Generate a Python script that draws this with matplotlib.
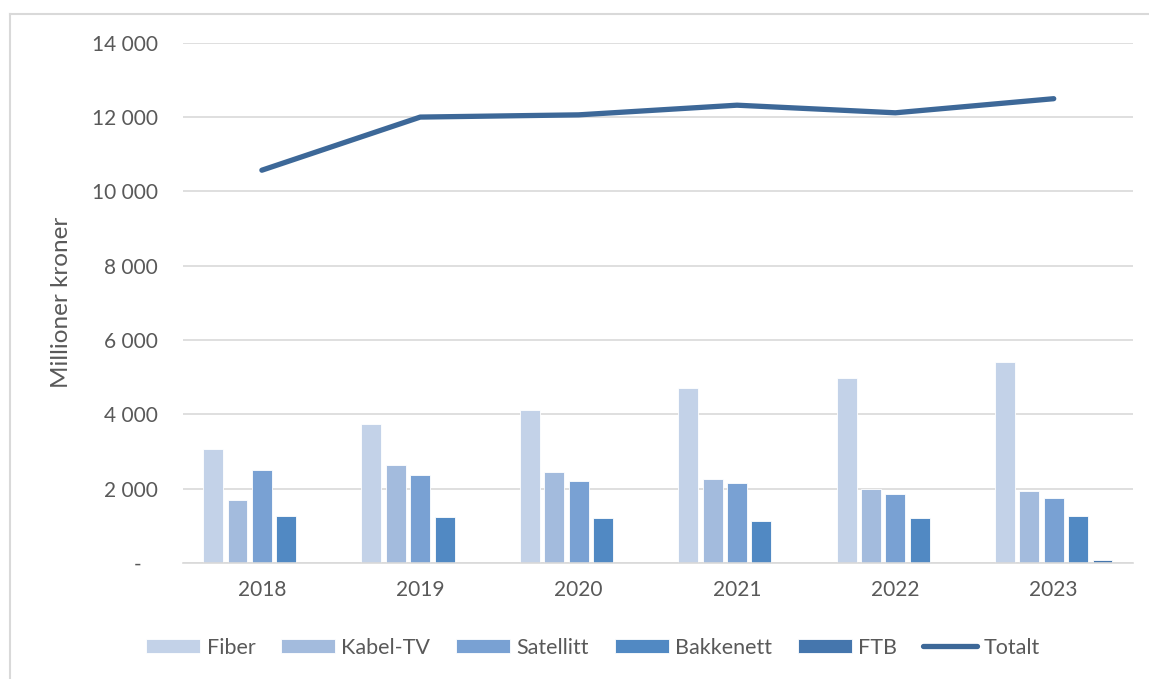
import matplotlib

matplotlib.use("Agg")
import matplotlib.pyplot as plt
from matplotlib.lines import Line2D
from matplotlib.ticker import FuncFormatter

plt.rcParams["font.family"] = ["Lato", "DejaVu Sans"]

YEARS = ["2018", "2019", "2020", "2021", "2022", "2023"]
SERIES = ["Fiber", "Kabel-TV", "Satellitt", "Bakkenett", "FTB"]
FIBER = [3070, 3730, 4120, 4710, 4990, 5410]
KABEL_TV = [1680, 2630, 2450, 2250, 1990, 1930]
SATELLITT = [2500, 2355, 2210, 2150, 1850, 1760]
BAKKENETT = [1260, 1230, 1200, 1140, 1195, 1275]
FTB = [0, 0, 0, 0, 10, 75]
TOTALT = [10570, 12000, 12060, 12320, 12115, 12495]

COLORS = ["#C3D2E8", "#A3BBDD", "#79A1D3", "#5189C3", "#4576AD"]
LINE_COLOR = "#3D6898"
TEXT_COLOR = "#595959"
GRID_COLOR = "#D9D9D9"

fig = plt.figure(figsize=(11.49, 6.79), dpi=100)
ax = fig.add_axes([0.159, 0.171, 0.827, 0.766])

slot = 0.154
for i, (name, vals) in enumerate(zip(SERIES, [FIBER, KABEL_TV, SATELLITT, BAKKENETT, FTB])):
    xs = [k + (i - 2) * slot for k in range(len(YEARS))]
    ax.bar(xs, vals, width=0.126, color=COLORS[i], edgecolor="white",
           linewidth=0.6, label=name, zorder=2)

ax.plot(range(len(YEARS)), TOTALT, color=LINE_COLOR, linewidth=3.8,
        solid_capstyle="round", solid_joinstyle="round", zorder=3)

ax.set_xlim(-0.5, len(YEARS) - 0.5)
ax.set_ylim(0, 14000)
ax.set_yticks(range(0, 14001, 2000))
ax.yaxis.set_major_formatter(FuncFormatter(
    lambda v, p: "-   " if v == 0 else f"{int(v):,}".replace(",", " ")))
ax.set_xticks(range(len(YEARS)))
ax.set_xticklabels(YEARS)
ax.tick_params(axis="both", length=0, labelsize=15, colors=TEXT_COLOR)
ax.tick_params(axis="y", pad=18)
ax.tick_params(axis="x", pad=12)
ax.grid(axis="y", color=GRID_COLOR, linewidth=1.2, zorder=0)
ax.set_axisbelow(True)
for s in ["top", "right", "left"]:
    ax.spines[s].set_visible(False)
ax.spines["bottom"].set_color(GRID_COLOR)
ax.spines["bottom"].set_linewidth(1.2)
ax.set_ylabel("Millioner kroner", fontsize=17.5, color=TEXT_COLOR)
ax.yaxis.set_label_coords(-0.117, 0.5)

handles, labels = ax.get_legend_handles_labels()
handles.append(Line2D([], [], color=LINE_COLOR, linewidth=3.8, solid_capstyle="round"))
labels.append("Totalt")
leg = fig.legend(handles, labels, loc="center", bbox_to_anchor=(0.516, 0.046),
                 ncol=6, frameon=False, fontsize=15.5, handlelength=2.5,
                 handleheight=0.63, handletextpad=0.3, columnspacing=1.2)
for t in leg.get_texts():
    t.set_color(TEXT_COLOR)

# chart area border (top and left visible)
fig.add_artist(Line2D([10 / 1149, 1], [1 - 14 / 679, 1 - 14 / 679],
                      transform=fig.transFigure, color=GRID_COLOR, linewidth=1.5))
fig.add_artist(Line2D([10 / 1149, 10 / 1149], [0, 1 - 14 / 679],
                      transform=fig.transFigure, color=GRID_COLOR, linewidth=1.5))

fig.savefig("out.png", dpi=100, facecolor="white")
